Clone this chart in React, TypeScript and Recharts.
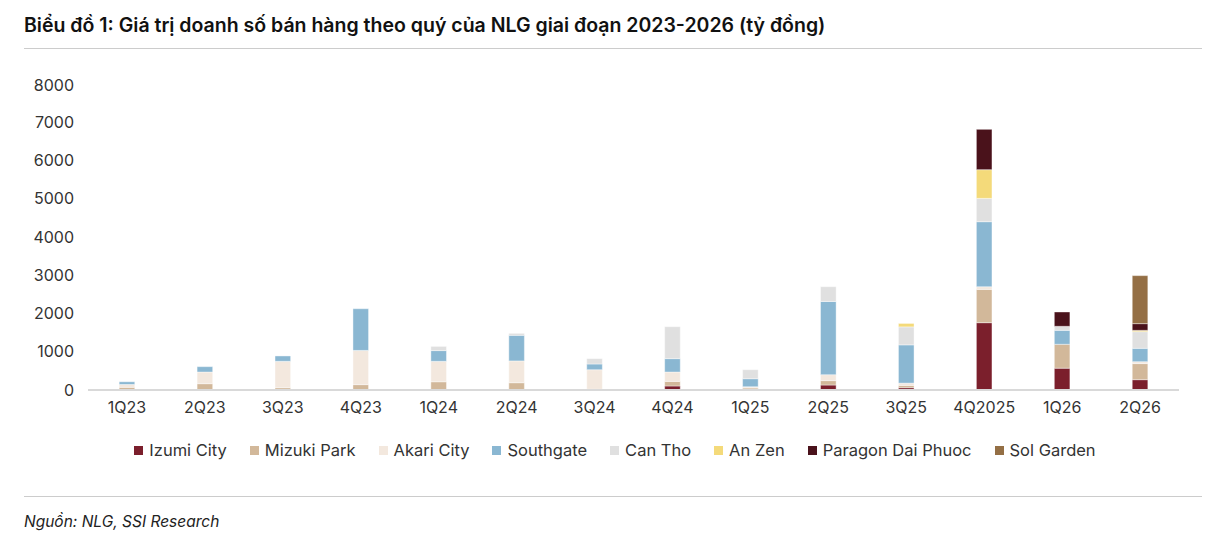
import React from 'react';
import { BarChart, Bar, XAxis, YAxis } from 'recharts';

const quarters = ['1Q23', '2Q23', '3Q23', '4Q23', '1Q24', '2Q24', '3Q24', '4Q24', '1Q25', '2Q25', '3Q25', '4Q2025', '1Q26', '2Q26'];
const izumi = [0, 0, 0, 0, 0, 0, 0, 105, 20, 130, 60, 1760, 570, 270];
const mizuki = [70, 165, 60, 140, 215, 190, 20, 120, 35, 115, 60, 870, 625, 420];
const akari = [75, 305, 690, 895, 535, 570, 510, 245, 30, 155, 60, 70, 0, 50];
const southgate = [70, 140, 140, 1090, 280, 670, 150, 350, 210, 1915, 1000, 1700, 365, 350];
const canTho = [0, 0, 0, 0, 110, 50, 140, 835, 235, 385, 470, 610, 105, 435];
const anZen = [0, 0, 0, 0, 0, 0, 0, 0, 0, 0, 90, 750, 0, 35];
const paragon = [0, 0, 0, 0, 0, 0, 0, 0, 0, 0, 0, 1055, 375, 175];
const solGarden = [0, 0, 0, 0, 0, 0, 0, 0, 0, 0, 0, 0, 0, 1255];
const yTicks = [0, 1000, 2000, 3000, 4000, 5000, 6000, 7000, 8000];

const series = [
  { key: 'izumi', name: 'Izumi City', color: '#7b1f2c', values: izumi },
  { key: 'mizuki', name: 'Mizuki Park', color: '#d2b89a', values: mizuki },
  { key: 'akari', name: 'Akari City', color: '#f3e8de', values: akari },
  { key: 'southgate', name: 'Southgate', color: '#8ab7d2', values: southgate },
  { key: 'canTho', name: 'Can Tho', color: '#e0e0e0', values: canTho },
  { key: 'anZen', name: 'An Zen', color: '#f4da7a', values: anZen },
  { key: 'paragon', name: 'Paragon Dai Phuoc', color: '#4a121b', values: paragon },
  { key: 'sol', name: 'Sol Garden', color: '#946f45', values: solGarden },
];

const data = quarters.map((q, i) => {
  const row: Record<string, string | number> = { q };
  series.forEach((s) => { row[s.key] = s.values[i]; });
  return row;
});

const font = 'Inter, "Noto Sans", sans-serif';

export default function App() {
  return (
    <div style={{ position: 'relative', width: 1194, height: 526, fontFamily: font, background: '#fff' }}>
      <div style={{ position: 'absolute', left: 16, top: 5, fontSize: 19.5, fontWeight: 600, color: '#111', whiteSpace: 'nowrap' }}>
        Biểu đồ 1: Giá trị doanh số bán hàng theo quý của NLG giai đoạn 2023-2026 (tỷ đồng)
      </div>
      <div style={{ position: 'absolute', left: 16, right: 0, top: 40, borderTop: '1px solid #ccc' }} />
      <div style={{ position: 'absolute', left: 0, top: 68 }}>
        <BarChart width={1194} height={344} data={data} margin={{ top: 8, right: 23, left: 0, bottom: 0 }} barCategoryGap="60%">
          <XAxis dataKey="q" axisLine={{ stroke: '#d9d9d9', strokeWidth: 2 }} tickLine={false} tick={{ fill: '#333', fontSize: 16 }} tickMargin={6} height={30} />
          <YAxis width={80} domain={[0, 8000]} ticks={yTicks} axisLine={false} tickLine={false} tick={{ fill: '#333', fontSize: 16 }} tickMargin={8} />
          {series.map((s) => (
            <Bar key={s.key} dataKey={s.key} name={s.name} stackId="a" fill={s.color} stroke="#fff" strokeOpacity={0.4} isAnimationActive={false} />
          ))}
        </BarChart>
      </div>
      <div style={{ position: 'absolute', left: 0, width: 1214, top: 432, display: 'flex', justifyContent: 'center', gap: 23, fontSize: 16.5, color: '#333' }}>
        {series.map((s) => (
          <span key={s.key} style={{ display: 'flex', alignItems: 'center' }}>
            <span style={{ width: 9, height: 9, background: s.color, marginRight: 6, display: 'inline-block' }} />
            {s.name}
          </span>
        ))}
      </div>
      <div style={{ position: 'absolute', left: 16, right: 0, top: 488, borderTop: '1px solid #ccc' }} />
      <div style={{ position: 'absolute', left: 16, top: 504, fontSize: 15.5, fontStyle: 'italic', color: '#222' }}>
        Nguồn: NLG, SSI Research
      </div>
    </div>
  );
}
